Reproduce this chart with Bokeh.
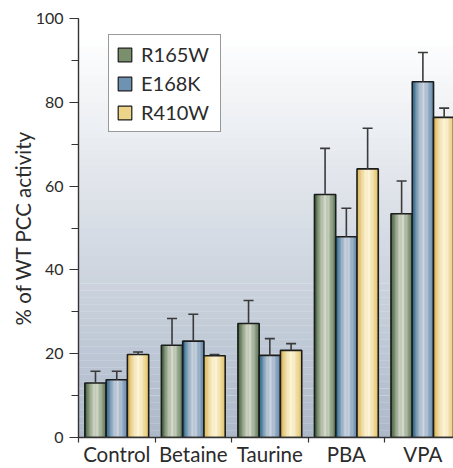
import numpy as np
from bokeh.plotting import figure
from bokeh.models import (FixedTicker, SingleIntervalTicker, Legend, LegendItem,
                          Whisker, ColumnDataSource, TeeHead, Range1d)
from bokeh.embed import file_html
from bokeh.resources import INLINE

# ---- data ----
categories = ["Control", "Betaine", "Taurine", "PBA", "VPA"]
series = ["R165W", "E168K", "R410W"]
r165w = [13.0, 22.0, 27.2, 58.0, 53.4]
r165w_err = [2.8, 6.4, 5.5, 11.0, 7.8]
e168k = [13.8, 23.0, 19.6, 47.9, 84.9]
e168k_err = [2.0, 6.4, 4.0, 6.8, 7.0]
r410w = [19.8, 19.5, 20.8, 64.1, 76.4]
r410w_err = [0.6, 0.3, 1.6, 9.7, 2.2]
y_ticks = [0, 20, 40, 60, 80, 100]

values = [r165w, e168k, r410w]
errors = [r165w_err, e168k_err, r410w_err]

# ---- style ----
TEXT = "#2b2b2b"
FONT = "Lato"
grads = [
    ("#2c4c24", "#d5dacb", "#557050"),
    ("#14527a", "#cbd4df", "#5a82a6"),
    ("#d6aa40", "#fcf5da", "#dfbd5c"),
]
legend_cols = ["#7a906c", "#6e92b2", "#ecd488"]


def hex2rgb(h):
    h = h.lstrip("#")
    return np.array([int(h[i:i + 2], 16) for i in (0, 2, 4)], dtype=float)


def rgb2hex(c):
    c = np.clip(np.round(c), 0, 255).astype(int)
    return "#%02x%02x%02x" % tuple(c)


def grad_color(t, left, mid, right, peak=0.55):
    l, m, r = hex2rgb(left), hex2rgb(mid), hex2rgb(right)
    if t <= peak:
        s = t / peak
        s = np.sin(s * np.pi / 2)
        return rgb2hex(l + (m - l) * s)
    s = (t - peak) / (1 - peak)
    s = s ** 1.3
    return rgb2hex(m + (r - m) * s)


W, H = 453, 468
p = figure(width=W, height=H, output_backend="svg", toolbar_location=None,
           x_range=Range1d(0, 4.9), y_range=Range1d(0, 100),
           min_border_left=78, min_border_right=0, min_border_top=18,
           min_border_bottom=31)
p.outline_line_color = None
p.xgrid.visible = False
p.ygrid.visible = False
p.background_fill_color = "white"
p.border_fill_color = "white"

# background vertical gradient inside the frame
nb = 60
edges = np.linspace(0, 100, nb + 1)
bg_bot, bg_top = hex2rgb("#acb8c9"), hex2rgb("#ffffff")
bg_cols = []
for k in range(nb):
    t = (edges[k] + edges[k + 1]) / 200.0
    t2 = min(1.0, t * 1.04)
    bg_cols.append(rgb2hex(bg_bot + (bg_top - bg_bot) * t2))
p.quad(left=0, right=5, bottom=edges[:-1], top=edges[1:] + 0.05,
       fill_color=bg_cols, line_color=None, level="underlay")

n_cat = len(categories)
centers = np.arange(n_cat) + 0.5
bw = 0.278
offsets = [-bw, 0.0, bw]
nstrip = 16

legend_items = []
for si, name in enumerate(series):
    xs = centers + offsets[si]
    vals = np.array(values[si])
    errs = np.array(errors[si])
    p.vbar(x=xs, top=vals, bottom=0, width=bw, fill_color=legend_cols[si],
           line_color=None)
    sx, stop, scol = [], [], []
    for k in range(nstrip):
        t = (k + 0.5) / nstrip
        c = grad_color(t, *grads[si])
        for xi, v in zip(xs, vals):
            sx.append(xi - bw / 2 + t * bw)
            stop.append(v)
            scol.append(c)
    p.vbar(x=sx, top=stop, bottom=0, width=bw / nstrip * 1.08, fill_color=scol,
           line_color=None)
    p.vbar(x=xs, top=vals, bottom=0, width=bw, fill_color=None,
           line_color="#1c1c1c", line_width=1.6)
    leg = p.vbar(x=xs, top=vals, bottom=0, width=bw, fill_color=legend_cols[si],
                 line_color="#1c1c1c", line_width=1.2, visible=False)
    legend_items.append(LegendItem(label=name, renderers=[leg]))
    src = ColumnDataSource(dict(x=xs, lo=vals, hi=vals + errs))
    wh = Whisker(base="x", lower="lo", upper="hi", source=src,
                 line_color="#3a3a3a", line_width=1.6,
                 upper_head=TeeHead(size=10, line_color="#3a3a3a", line_width=1.6),
                 lower_head=None, level="glyph")
    p.add_layout(wh)

legend = Legend(items=legend_items, location=(30, 305), orientation="vertical",
                glyph_width=17, glyph_height=17, label_height=17, spacing=5,
                padding=7, margin=0, label_standoff=8, label_width=72,
                label_text_font=FONT, label_text_font_size="20px",
                label_text_color=TEXT, border_line_color="#333333",
                border_line_width=1, background_fill_color="white",
                background_fill_alpha=1.0)
p.add_layout(legend)

# x axis: labels at centers, minor ticks at group boundaries
xt = FixedTicker(ticks=list(centers), minor_ticks=list(np.arange(n_cat + 1)))
p.xaxis.ticker = xt
p.xaxis.major_label_overrides = {float(c): cat for c, cat in zip(centers, categories)}
p.xaxis.major_tick_line_color = None
p.xaxis.major_tick_out = 5
p.xaxis.major_tick_in = 0
p.xaxis.minor_tick_out = 5
p.xaxis.minor_tick_in = 0
p.xaxis.minor_tick_line_color = "#333333"
p.xaxis.minor_tick_line_width = 1.2
p.xaxis.axis_line_color = "#333333"
p.xaxis.axis_line_width = 1.4
p.xaxis.major_label_text_font = FONT
p.xaxis.major_label_text_font_size = "20.5px"
p.xaxis.major_label_text_color = TEXT
p.xaxis.major_label_standoff = -1

# y axis
p.yaxis.ticker = SingleIntervalTicker(interval=20, num_minor_ticks=2)
p.yaxis.axis_label = "% of WT PCC activity"
p.yaxis.axis_label_text_font = FONT
p.yaxis.axis_label_text_font_size = "20.5px"
p.yaxis.axis_label_text_font_style = "normal"
p.yaxis.axis_label_text_color = TEXT
p.yaxis.axis_label_standoff = -2
p.yaxis.major_label_text_font = FONT
p.yaxis.major_label_text_font_size = "16px"
p.yaxis.major_label_text_color = TEXT
p.yaxis.major_label_standoff = 6
p.yaxis.major_tick_out = 9
p.yaxis.major_tick_in = 0
p.yaxis.minor_tick_out = 7
p.yaxis.minor_tick_in = 0
p.yaxis.major_tick_line_color = "#333333"
p.yaxis.minor_tick_line_color = "#333333"
p.yaxis.major_tick_line_width = 1.2
p.yaxis.minor_tick_line_width = 1.2
p.yaxis.axis_line_color = "#333333"
p.yaxis.axis_line_width = 1.4

open("out.html", "w").write(file_html(p, INLINE))
